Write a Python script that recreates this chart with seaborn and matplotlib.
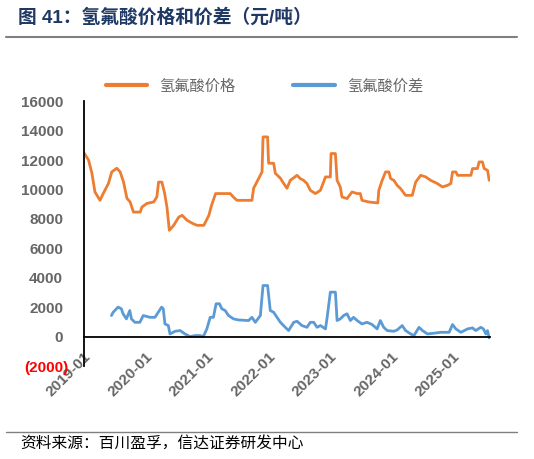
"""Hydrofluoric acid price and spread, 2019-2025 (yuan/ton)."""

import pandas as pd
import matplotlib.pyplot as plt
import matplotlib.dates as mdates
import matplotlib.transforms as mtransforms
from matplotlib.lines import Line2D
from matplotlib.ticker import FuncFormatter
import seaborn as sns

# Data
price_dates = [
    "2019-01-01", "2019-01-29", "2019-02-18", "2019-03-08", "2019-04-07", "2019-04-27",
    "2019-05-27", "2019-06-16", "2019-07-16", "2019-08-05", "2019-08-25", "2019-09-14",
    "2019-10-03", "2019-10-23", "2019-12-02", "2019-12-12", "2020-01-11", "2020-02-20",
    "2020-03-10", "2020-03-20", "2020-04-09", "2020-04-25", "2020-05-09", "2020-05-23",
    "2020-06-18", "2020-07-18", "2020-08-07", "2020-09-06", "2020-10-05", "2020-11-04",
    "2020-12-14", "2021-01-13", "2021-01-29", "2021-02-22", "2021-05-20", "2021-06-07",
    "2021-06-29", "2021-09-26", "2021-10-06", "2021-11-25", "2021-12-01", "2021-12-28",
    "2022-01-03", "2022-02-02", "2022-02-12", "2022-03-14", "2022-04-02", "2022-04-22",
    "2022-05-12", "2022-06-21", "2022-07-10", "2022-07-30", "2022-08-19", "2022-09-08",
    "2022-10-08", "2022-11-07", "2022-12-07", "2023-01-05", "2023-01-09", "2023-02-04",
    "2023-02-14", "2023-03-05", "2023-03-15", "2023-04-14", "2023-05-14", "2023-06-13",
    "2023-07-02", "2023-07-12", "2023-08-21", "2023-10-14", "2023-10-20", "2023-11-09",
    "2023-11-29", "2023-12-19", "2023-12-29", "2024-01-17", "2024-02-06", "2024-02-26",
    "2024-03-27", "2024-05-06", "2024-05-26", "2024-06-25", "2024-07-25", "2024-08-23",
    "2024-10-02", "2024-11-01", "2024-12-01", "2024-12-21", "2024-12-31", "2025-01-20",
    "2025-01-30", "2025-04-19", "2025-04-29", "2025-05-28", "2025-06-07", "2025-06-27",
    "2025-07-07", "2025-07-27", "2025-08-06",
]
price_values = [
    12500, 12000, 11100, 9830, 9260, 9740,
    10400, 11190, 11440, 11190, 10500, 9400,
    9150, 8460, 8460, 8800, 9050, 9150,
    9490, 10500, 10500, 9740, 8800, 7220,
    7560, 8120, 8240, 7900, 7710, 7560,
    7560, 8240, 8920, 9720, 9720, 9490,
    9260, 9260, 10080, 11190, 13570, 13570,
    11780, 11780, 11100, 10760, 10420, 10080,
    10620, 10960, 10740, 10620, 10400, 9940,
    9720, 9940, 10850, 10850, 12440, 12440,
    10620, 10170, 9490, 9380, 9830, 9720,
    9720, 9260, 9150, 9080, 9940, 10620,
    11190, 11190, 10740, 10620, 10280, 10060,
    9600, 9600, 10500, 10960, 10850, 10620,
    10400, 10170, 10280, 10400, 11190, 11190,
    10960, 10960, 11420, 11420, 11870, 11870,
    11420, 11300, 10620,
]

spread_dates = [
    "2019-06-14", "2019-06-24", "2019-07-23", "2019-08-12", "2019-08-22", "2019-09-11",
    "2019-10-01", "2019-10-11", "2019-10-31", "2019-11-30", "2019-12-20", "2020-01-29",
    "2020-02-28", "2020-03-18", "2020-04-07", "2020-04-17", "2020-04-27", "2020-05-17",
    "2020-05-27", "2020-06-26", "2020-07-26", "2020-08-24", "2020-09-23", "2020-10-23",
    "2020-11-22", "2020-12-11", "2021-01-01", "2021-01-21", "2021-02-09", "2021-02-25",
    "2021-03-17", "2021-03-31", "2021-04-20", "2021-05-10", "2021-06-09", "2021-07-08",
    "2021-09-06", "2021-09-26", "2021-10-16", "2021-11-15", "2021-12-01", "2021-12-28",
    "2022-01-13", "2022-02-02", "2022-02-22", "2022-03-14", "2022-04-12", "2022-05-02",
    "2022-06-01", "2022-06-21", "2022-07-20", "2022-08-19", "2022-09-08", "2022-09-28",
    "2022-10-18", "2022-11-07", "2022-12-07", "2022-12-17", "2023-01-05", "2023-02-04",
    "2023-02-14", "2023-03-05", "2023-03-25", "2023-04-14", "2023-05-04", "2023-05-23",
    "2023-06-13", "2023-07-12", "2023-08-11", "2023-09-10", "2023-10-10", "2023-10-29",
    "2023-11-18", "2023-12-09", "2024-01-17", "2024-02-06", "2024-03-07", "2024-03-27",
    "2024-04-26", "2024-05-16", "2024-06-15", "2024-07-05", "2024-08-04", "2024-09-12",
    "2024-10-22", "2024-12-11", "2024-12-31", "2025-01-20", "2025-02-19", "2025-03-30",
    "2025-04-29", "2025-05-18", "2025-06-17", "2025-07-03", "2025-07-17", "2025-07-27",
    "2025-08-06",
]
spread_values = [
    1430, 1650, 2000, 1890, 1550, 1200,
    1770, 1200, 970, 970, 1430, 1310,
    1310, 1650, 2000, 1890, 860, 750,
    180, 360, 410, 180, 0, 70,
    70, 0, 520, 1310, 1310, 2230,
    2230, 1890, 1770, 1430, 1200, 1130,
    1090, 1310, 970, 1430, 3470, 3470,
    1770, 1650, 1310, 970, 630, 410,
    970, 1040, 750, 630, 970, 970,
    630, 750, 520, 1310, 3020, 3020,
    1090, 1200, 1430, 1550, 1090, 1310,
    1090, 860, 970, 820, 520, 1090,
    630, 410, 360, 450, 750, 410,
    180, 70, 630, 410, 180, 230,
    290, 290, 820, 520, 290, 520,
    590, 410, 630, 520, 180, 410,
    -90,
]

year_ticks = ["2019-01", "2020-01", "2021-01", "2022-01", "2023-01", "2024-01", "2025-01"]
series_names = ["氢氟酸价格", "氢氟酸价差"]
series_colors = ["#ED7D31", "#5B9BD5"]


def main() -> None:
    sns.set_theme(style="white")
    plt.rcParams["font.family"] = ["Liberation Sans", "Noto Sans CJK SC", "DejaVu Sans"]
    plt.rcParams["axes.unicode_minus"] = False

    price = pd.DataFrame({"date": pd.to_datetime(price_dates), "value": price_values})
    spread = pd.DataFrame({"date": pd.to_datetime(spread_dates), "value": spread_values})

    fig = plt.figure(figsize=(5.34, 4.59), dpi=100)
    ax = fig.add_axes([0.157, 0.2026, 0.761, 0.577])

    sns.lineplot(data=price, x="date", y="value", ax=ax, color=series_colors[0],
                 linewidth=2.0, estimator=None)
    sns.lineplot(data=spread, x="date", y="value", ax=ax, color=series_colors[1],
                 linewidth=2.0, estimator=None)

    ax.set_ylim(-2000, 16000)
    ax.set_yticks(range(-2000, 16001, 2000))
    ax.yaxis.set_major_formatter(FuncFormatter(
        lambda v, _: f"({abs(int(v))})" if v < 0 else f"{int(v)}"))
    ax.set_xlim(pd.Timestamp("2019-01-01"), pd.Timestamp("2025-08-12"))
    ax.set_xticks(pd.to_datetime(year_ticks))
    ax.xaxis.set_major_formatter(mdates.DateFormatter("%Y-%m"))
    ax.set_xlabel("")
    ax.set_ylabel("")

    for side in ["top", "right"]:
        ax.spines[side].set_visible(False)
    ax.spines["left"].set_color("black")
    ax.spines["left"].set_linewidth(1.3)
    ax.spines["bottom"].set_color("black")
    ax.spines["bottom"].set_linewidth(1.3)
    ax.spines["bottom"].set_position(("data", 0))

    ax.tick_params(axis="both", which="major", direction="out", length=4, width=1.2,
                   color="black", labelsize=11, labelcolor="#666666")
    ax.tick_params(axis="x", pad=5)
    ax.tick_params(axis="y", pad=11)
    # negative label hangs its closing parenthesis to the right, as in Excel
    shift = mtransforms.ScaledTranslation(5 / 100, 0, fig.dpi_scale_trans)
    for lbl in ax.get_yticklabels():
        lbl.set_fontweight("bold")
        if lbl.get_text().startswith("("):
            lbl.set_color("red")
            lbl.set_zorder(5)
            lbl.set_transform(lbl.get_transform() + shift)
    for lbl in ax.get_xticklabels():
        lbl.set_fontweight("bold")
        lbl.set_rotation(45)
        lbl.set_ha("right")
        lbl.set_va("top")
        lbl.set_rotation_mode("anchor")

    handles = [Line2D([0], [0], color=c, linewidth=3) for c in series_colors]
    leg = fig.legend(handles, series_names, loc="center", bbox_to_anchor=(0.495, 0.812),
                     ncol=2, frameon=False, fontsize=11, handlelength=2.7,
                     columnspacing=3.8, handletextpad=0.8)
    for t in leg.get_texts():
        t.set_color("#666666")

    # Header and footer
    fig.text(0.034, 0.962, "图 41：氢氟酸价格和价差（元/吨）", fontsize=13.5,
             fontweight="bold", color="#1F3864", va="center", ha="left")
    fig.add_artist(Line2D([0.011, 0.968], [0.919, 0.919], transform=fig.transFigure,
                          color="#808080", linewidth=1.5))
    fig.add_artist(Line2D([0.011, 0.968], [0.059, 0.059], transform=fig.transFigure,
                          color="#808080", linewidth=1.0))
    fig.text(0.037, 0.034, "资料来源：百川盈孚，信达证券研发中心", fontsize=11.3,
             fontstyle="italic", color="black", va="center", ha="left")

    fig.savefig("out.png", dpi=100)
    plt.close(fig)


if __name__ == "__main__":
    main()
